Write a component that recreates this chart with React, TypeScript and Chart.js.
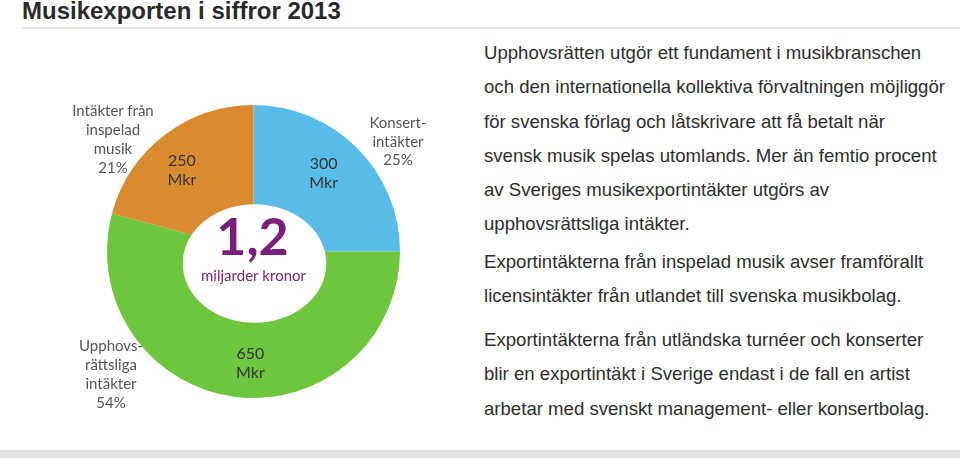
import React, { useEffect, useRef } from "react";
import { Chart, registerables } from "chart.js";

Chart.register(...registerables);

// ---- data ----
const categories = ["Konsertintäkter", "Upphovsrättsliga intäkter", "Intäkter från inspelad musik"];
const valuesMkr = [300, 650, 250];
const valueUnit = "Mkr";
const percentLabels = ["25%", "54%", "21%"];
const outerLabelLines = [
  ["Konsert-", "intäkter"],
  ["Upphovs-", "rättsliga", "intäkter"],
  ["Intäkter från", "inspelad", "musik"],
];
const sliceColors = ["#57bde8", "#6ec63d", "#d98b2f"];
const totalLabel = "1,2";
const totalUnit = "miljarder kronor";
const titleText = "Musikexporten i siffror 2013";
const paragraph1 = [
  "Upphovsrätten utgör ett fundament i musikbranschen",
  "och den internationella kollektiva förvaltningen möjliggör",
  "för svenska förlag och låtskrivare att få betalt när",
  "svensk musik spelas utomlands. Mer än femtio procent",
  "av Sveriges musikexportintäkter utgörs av",
  "upphovsrättsliga intäkter.",
];
const paragraph2 = [
  "Exportintäkterna från inspelad musik avser framförallt",
  "licensintäkter från utlandet till svenska musikbolag.",
];
const paragraph3 = [
  "Exportintäkterna från utländska turnéer och konserter",
  "blir en exportintäkt i Sverige endast i de fall en artist",
  "arbetar med svenskt management- eller konsertbolag.",
];

// layout (not data): small nudges for the in-slice value labels
const valueLabelNudge = [
  [-6, -3],
  [11, 5],
  [-6, 4],
];

const labelFont = "Lato, 'Open Sans', sans-serif";

const sliceLabelPlugin = {
  id: "sliceLabels",
  afterDatasetsDraw(chart: any) {
    const ctx = chart.ctx;
    const meta = chart.getDatasetMeta(0);
    const first = meta.data[0];
    const cx = first.x;
    const cy = first.y;
    const R = first.outerRadius;
    ctx.save();
    // white centre disc (slightly oval, as in the original graphic)
    ctx.fillStyle = "#ffffff";
    ctx.beginPath();
    ctx.ellipse(cx + 1, cy + 12, R * 0.49, R * 0.405, 0, 0, Math.PI * 2);
    ctx.fill();

    ctx.textAlign = "center";
    ctx.textBaseline = "middle";
    ctx.fillStyle = "#353535";
    ctx.font = `16px ${labelFont}`;
    meta.data.forEach((arc: any, i: number) => {
      const a = (arc.startAngle + arc.endAngle) / 2;
      const r = arc.outerRadius * 0.735;
      const x = arc.x + Math.cos(a) * r + valueLabelNudge[i][0];
      const y = arc.y + Math.sin(a) * r + valueLabelNudge[i][1];
      ctx.fillText(String(valuesMkr[i]), x, y - 9);
      ctx.fillText(valueUnit, x, y + 10);
    });
    ctx.fillStyle = "#7b1f7c";
    ctx.font = `bold 52px ${labelFont}`;
    ctx.fillText(totalLabel, cx - 1, cy - 13);
    ctx.font = `15px ${labelFont}`;
    ctx.fillText(totalUnit, cx, cy + 25);
    ctx.restore();
  },
};

function OuterLabel({ lines, pct, cx, top, lh }: { lines: string[]; pct: string; cx: number; top: number; lh: number }) {
  return (
    <div
      style={{
        position: "absolute",
        left: cx - 70,
        width: 140,
        top,
        textAlign: "center",
        fontFamily: labelFont,
        fontSize: 15,
        lineHeight: `${lh}px`,
        color: "#555",
      }}
    >
      {lines.concat([pct]).map((l, i) => (
        <div key={i}>{l}</div>
      ))}
    </div>
  );
}

function Para({ lines, top }: { lines: string[]; top: number }) {
  return (
    <div
      style={{
        position: "absolute",
        left: 484,
        top,
        fontFamily: "'Liberation Sans', Arial, sans-serif",
        fontSize: 18.6,
        lineHeight: "34.3px",
        color: "#2e2e2e",
        whiteSpace: "nowrap",
      }}
    >
      {lines.map((l, i) => (
        <div key={i}>{l}</div>
      ))}
    </div>
  );
}

export default function App() {
  const ref = useRef<HTMLCanvasElement>(null);
  useEffect(() => {
    if (!ref.current) return;
    const chart = new Chart(ref.current, {
      type: "doughnut",
      data: {
        labels: categories,
        datasets: [
          {
            data: valuesMkr,
            backgroundColor: sliceColors,
            borderWidth: 0,
          },
        ],
      },
      options: {
        animation: false,
        responsive: false,
        maintainAspectRatio: false,
        cutout: "30%",
        layout: { padding: { left: 107, right: 70, top: 75, bottom: 52 } },
        plugins: { legend: { display: false }, tooltip: { enabled: false } },
      },
      plugins: [sliceLabelPlugin],
    });
    return () => chart.destroy();
  }, []);

  return (
    <div style={{ position: "absolute", left: 0, top: 0, width: 960, height: 458, background: "#fff", overflow: "hidden" }}>
      <div
        style={{
          position: "absolute",
          left: 22,
          top: -1,
          fontFamily: "'Liberation Sans', Arial, sans-serif",
          fontWeight: "bold",
          fontSize: 24,
          lineHeight: "24px",
          color: "#2a2a2a",
          whiteSpace: "nowrap",
        }}
      >
        {titleText}
      </div>
      <div style={{ position: "absolute", left: 22, top: 27, width: 938, height: 2, background: "#e6e6e6" }} />
      <canvas ref={ref} width={470} height={420} style={{ position: "absolute", left: 0, top: 30, width: 470, height: 420 }} />
      <OuterLabel lines={outerLabelLines[0]} pct={percentLabels[0]} cx={398} top={113} lh={18.5} />
      <OuterLabel lines={outerLabelLines[2]} pct={percentLabels[2]} cx={113} top={101} lh={19} />
      <OuterLabel lines={outerLabelLines[1]} pct={percentLabels[1]} cx={111} top={336} lh={19} />
      <Para lines={paragraph1} top={36} />
      <Para lines={paragraph2} top={245} />
      <Para lines={paragraph3} top={323} />
      <div style={{ position: "absolute", left: 0, top: 450, width: 960, height: 8, background: "#e2e2e2" }} />
    </div>
  );
}
